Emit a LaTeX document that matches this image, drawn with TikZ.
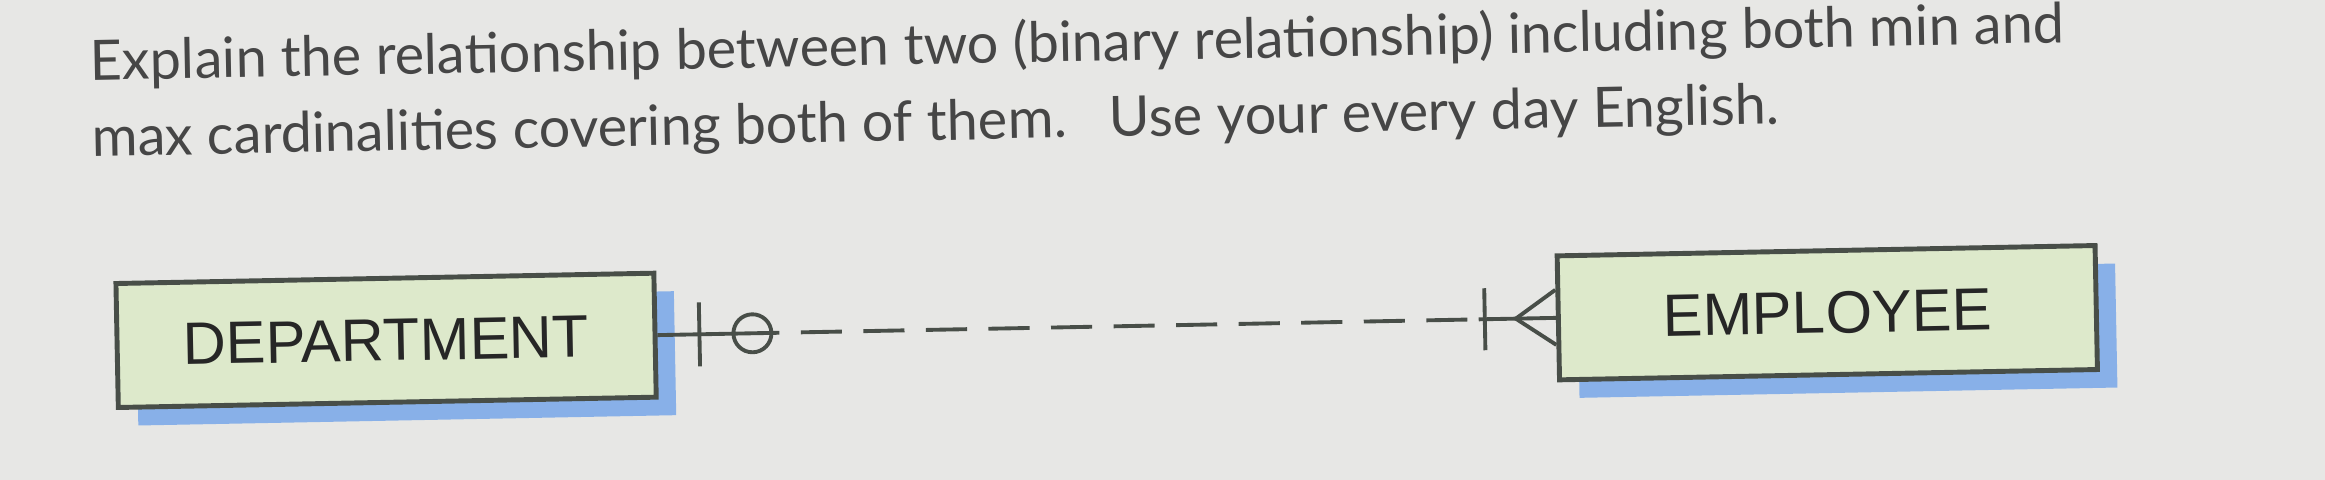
\documentclass[tikz,border=0pt]{standalone}
\usepackage{fontspec}
\setmainfont{Lato}
\newfontfamily\boxfont{Liberation Sans}
\usetikzlibrary{positioning,shadows}

\definecolor{paper}{RGB}{231,231,229}
\definecolor{entityfill}{RGB}{221,233,203}
\definecolor{entityline}{RGB}{72,78,72}
\definecolor{shadowblue}{RGB}{136,176,232}
\definecolor{inkgray}{RGB}{70,70,70}

\tikzset{
    question/.style={anchor=base west, inner sep=0pt, text=inkgray,
        font=\fontsize{15.85}{19}\selectfont},
    entity/.style={draw=entityline, line width=1.4pt, fill=entityfill,
        minimum width=5.38cm, minimum height=1.24cm, inner sep=0pt,
        text=black!85, font=\boxfont\fontsize{17}{20}\selectfont,
        drop shadow={shadow xshift=0.2cm, shadow yshift=-0.18cm,
            fill=shadowblue, opacity=1}},
    link/.style={draw=entityline, line width=1.1pt},
    dashlink/.style={link, dash pattern=on 11.7pt off 6.1pt, dash phase=11.7pt}
}

\begin{document}
\begin{tikzpicture}
    \fill[paper] (0,0) rectangle (23.25,-4.8);
    \useasboundingbox (0,0) rectangle (23.25,-4.8);

    \begin{scope}[rotate around={1.1:(11.6,-3.3)}, transform shape]
    \node[question] (q1) at (0.95,-0.6)
        {Explain the relationship between two (binary relationship) including both min and};
    \node[question] (q2) at ([yshift=-0.76cm]q1.base west)
        {max cardinalities covering both of them.\ \ \ Use your every day English.};

    \node[entity] (dept) at (3.86,-3.255) {DEPARTMENT};
    \node[entity] (emp) at (18.275,-3.255) {EMPLOYEE};

    % one and only one, optional
    \coordinate (d1) at ([xshift=1.22cm]dept.east);
    \coordinate (e1) at ([xshift=-0.77cm]emp.west);
    \draw[link] (dept.east) -- (d1);
    \draw[link] ([xshift=0.42cm,yshift=0.32cm]dept.east) -- ++(0,-0.64);
    \draw[link] ([xshift=0.95cm]dept.east) circle (0.19cm);
    \draw[dashlink] (d1) -- (e1);

    % one or many
    \draw[link] (e1) -- (emp.west);
    \draw[link] ([xshift=-0.71cm,yshift=0.31cm]emp.west) -- ++(0,-0.62);
    \draw[link] ([yshift=0.28cm]emp.west) -- ([xshift=-0.4cm]emp.west)
        -- ([yshift=-0.27cm]emp.west);
    \end{scope}
\end{tikzpicture}
\end{document}
